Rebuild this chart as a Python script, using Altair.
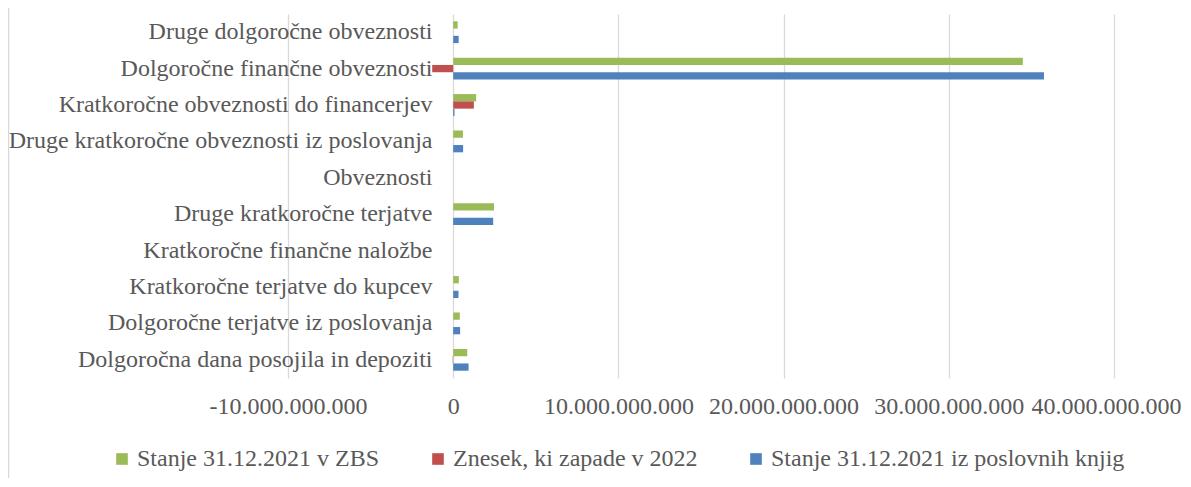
import altair as alt
import pandas as pd

categories = [
    "Druge dolgoročne obveznosti",
    "Dolgoročne finančne obveznosti",
    "Kratkoročne obveznosti do financerjev",
    "Druge kratkoročne obveznosti iz poslovanja",
    "Obveznosti",
    "Druge kratkoročne terjatve",
    "Kratkoročne finančne naložbe",
    "Kratkoročne terjatve do kupcev",
    "Dolgoročne terjatve iz poslovanja",
    "Dolgoročna dana posojila in depoziti",
]
series = [
    "Stanje 31.12.2021 v ZBS",
    "Znesek, ki zapade v 2022",
    "Stanje 31.12.2021 iz poslovnih knjig",
]
zbs = [0.27e9, 34.48e9, 1.39e9, 0.59e9, 0, 2.47e9, 0, 0.34e9, 0.40e9, 0.85e9]
znesek = [0, -1.27e9, 1.25e9, 0, 0, 0, 0, 0, 0, -0.03e9]
knjige = [0.33e9, 35.76e9, 0.08e9, 0.60e9, 0, 2.42e9, 0, 0.32e9, 0.42e9, 0.93e9]
tick_values = [-1e10, 0, 1e10, 2e10, 3e10, 4e10]
colors = ["#9BBB59", "#C0504D", "#4F81BD"]

rows = []
for name, vals in zip(series, [zbs, znesek, knjige]):
    for c, v in zip(categories, vals):
        rows.append({"Kategorija": c, "Serija": name, "Vrednost": v})
df = pd.DataFrame(rows)

FONT = "Liberation Serif"
FS = 24
TXT = "#595959"

bars = alt.Chart(df).mark_bar().encode(
    y=alt.Y(
        "Kategorija:N",
        sort=categories,
        scale=alt.Scale(paddingInner=0.4, paddingOuter=0.2),
        axis=alt.Axis(
            title=None, offset=-165, labelPadding=21, ticks=False, tickSize=0,
            domain=False, labelFont=FONT, labelFontSize=FS, labelColor=TXT,
            labelLimit=600, labelOverlap=False,
        ),
    ),
    yOffset=alt.YOffset("Serija:N", sort=series,
                        scale=alt.Scale(paddingInner=0, paddingOuter=0)),
    x=alt.X(
        "Vrednost:Q",
        scale=alt.Scale(domain=[-1e10, 4e10], nice=False),
        axis=alt.Axis(
            values=tick_values, title=None, grid=True, gridColor="#d9d9d9",
            gridWidth=1.3, domain=False, ticks=False, tickSize=0, labelPadding=16,
            labelFont=FONT, labelFontSize=FS, labelColor=TXT, labelOverlap=False,
            labelBound=False, labelFlush=False,
            labelOffset={"condition": {"test": "datum.value > 35000000000", "value": -8}, "value": 0},
            labelExpr="replace(replace(format(datum.value, ','), regexp(',', 'g'), '.'), '\u2212', '-')",
        ),
    ),
    color=alt.Color(
        "Serija:N",
        sort=series,
        scale=alt.Scale(domain=series, range=colors),
        legend=alt.Legend(
            title=None, orient="none", legendX=-178, legendY=433,
            direction="horizontal", columns=3, columnPadding=46,
            symbolType="square", symbolSize=135, symbolStrokeWidth=0,
            labelFont=FONT, labelFontSize=FS, labelColor=TXT, labelOffset=3,
            padding=0, labelLimit=600,
        ),
    ),
)

border = alt.Chart(pd.DataFrame({"a": [0]})).mark_rule(
    color="#d9d9d9", strokeWidth=1.5
).encode(x=alt.value(-279.5), y=alt.value(-10), y2=alt.value(480))

chart = alt.layer(bars, border).properties(
    width=826,
    height=364,
    autosize=alt.AutoSizeParams(type="none"),
    padding={"left": 280, "top": 6, "right": 69, "bottom": 100},
).configure_view(stroke=None)

chart.save("out.html", embed_options={"renderer": "svg", "actions": False})
